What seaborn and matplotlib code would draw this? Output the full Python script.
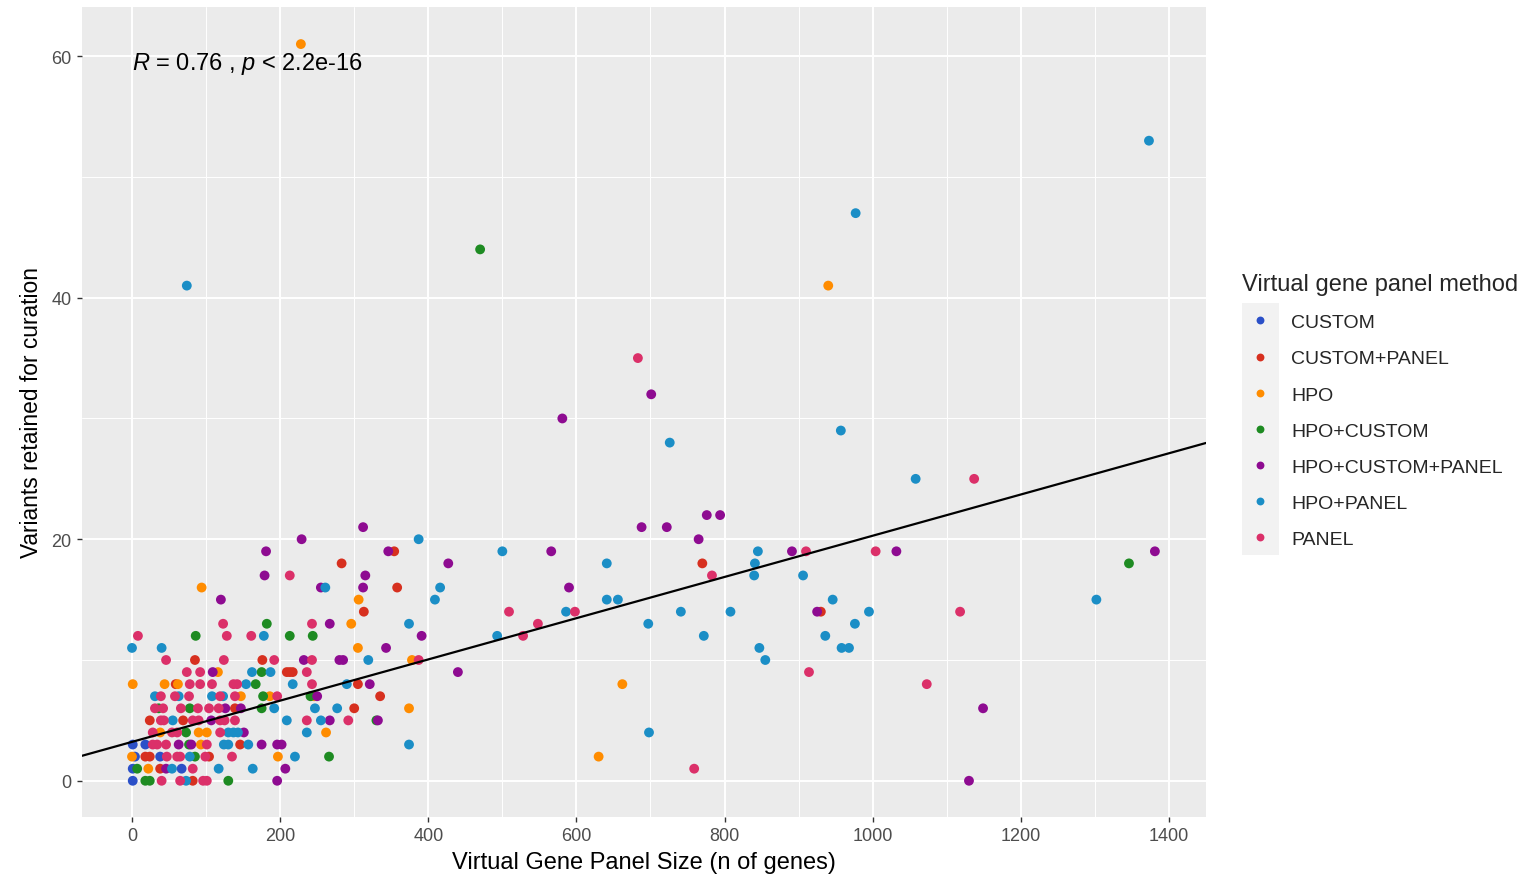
import numpy as np
import pandas as pd
import matplotlib
matplotlib.use("Agg")
import matplotlib.pyplot as plt
import seaborn as sns
from matplotlib.patches import Rectangle
from matplotlib.ticker import MultipleLocator

# ---------------- data ----------------
methods = ["CUSTOM", "CUSTOM+PANEL", "HPO", "HPO+CUSTOM",
           "HPO+CUSTOM+PANEL", "HPO+PANEL", "PANEL"]
method_colors = ["#2B50C8", "#D7301F", "#FF8C00", "#1E8B22",
                 "#8E0B91", "#1B8EC6", "#DB3069"]

custom_x = [1, 1, 4, 38, 1, 18, 67]
custom_y = [0, 1, 2, 2, 3, 3, 1]

custom_panel_x = [82, 38, 18, 24, 104, 146, 24, 69, 139, 300, 335, 59, 305,
                  209, 213, 217, 85, 176, 313, 930, 358, 283, 770, 354]
custom_panel_y = [0, 1, 2, 2, 2, 3, 5, 5, 6, 6, 7, 8, 8,
                  9, 9, 9, 10, 10, 14, 14, 16, 18, 18, 19]

hpo_x = [22, 0, 197, 630, 93, 38, 90, 101, 262, 374, 147, 186, 246,
         1, 44, 62, 662, 116, 378, 305, 296, 306, 94, 940, 228]
hpo_y = [1, 2, 2, 2, 3, 4, 4, 4, 4, 6, 7, 7, 7,
         8, 8, 8, 8, 9, 10, 11, 13, 15, 16, 41, 61]

hpo_custom_x = [18, 24, 130, 7, 85, 266, 77, 73, 330, 36, 78, 175, 177, 241,
                167, 175, 86, 213, 244, 182, 1346, 470]
hpo_custom_y = [0, 0, 0, 1, 2, 2, 3, 4, 5, 6, 6, 6, 7, 7,
                8, 9, 12, 12, 12, 13, 18, 44]

hpo_custom_panel_x = [196, 1130, 46, 207, 63, 80, 175, 196, 202, 151,
                      107, 267, 332, 126, 147, 1149, 250, 321, 109, 440,
                      232, 280, 285, 343, 391, 267, 925, 120, 255, 312, 590,
                      179, 315, 427, 181, 346, 566, 891, 1032, 1381,
                      229, 765, 312, 688, 722, 776, 794, 581, 701]
hpo_custom_panel_y = [0, 0, 1, 1, 3, 3, 3, 3, 3, 4,
                      5, 5, 5, 6, 6, 6, 7, 8, 9, 9,
                      10, 10, 10, 11, 12, 13, 14, 15, 16, 16, 16,
                      17, 17, 18, 19, 19, 19, 19, 19, 19,
                      20, 20, 21, 21, 21, 22, 22, 30, 32]

hpo_panel_x = [73, 54, 117, 163, 78, 220, 124, 130, 157, 374,
               130, 137, 143, 236, 698, 55, 209, 255, 192, 247, 277,
               31, 63, 108, 123, 154, 217, 290, 162, 187, 319, 855,
               0, 40, 847, 958, 968, 178, 493, 772, 936, 374, 697, 976,
               586, 741, 808, 995, 409, 641, 656, 946, 1302, 261, 416,
               840, 906, 641, 841, 500, 845, 387, 1058, 726, 957, 74,
               977, 1373]
hpo_panel_y = [0, 1, 1, 1, 2, 2, 3, 3, 3, 3,
               4, 4, 4, 4, 4, 5, 5, 5, 6, 6, 6,
               7, 7, 7, 7, 8, 8, 8, 9, 9, 10, 10,
               11, 11, 11, 11, 11, 12, 12, 12, 12, 13, 13, 13,
               14, 14, 14, 14, 15, 15, 15, 15, 15, 16, 16,
               17, 17, 18, 18, 19, 19, 20, 25, 28, 29, 41,
               47, 53]

panel_x = [40, 65, 96, 101, 82, 759, 47, 61, 65, 99, 135,
           28, 34, 46, 101, 28, 54, 61, 119,
           39, 43, 82, 90, 119, 125, 139, 236, 292,
           31, 42, 66, 89, 104, 117, 39, 58, 77, 119, 139, 196,
           78, 92, 108, 137, 142, 243, 1073, 74, 92, 236, 914,
           46, 124, 192, 243, 387, 8, 128, 161, 528, 123, 243, 548,
           509, 598, 1118, 213, 783, 910, 1004, 1137, 683]
panel_y = [0, 0, 0, 0, 1, 1, 2, 2, 2, 2, 2,
           3, 3, 3, 3, 4, 4, 4, 4,
           5, 5, 5, 5, 5, 5, 5, 5, 5,
           6, 6, 6, 6, 6, 6, 7, 7, 7, 7, 7, 7,
           8, 8, 8, 8, 8, 8, 8, 9, 9, 9, 9,
           10, 10, 10, 10, 10, 12, 12, 12, 12, 13, 13, 13,
           14, 14, 14, 17, 17, 19, 19, 25, 35]

# linear fit shown in the reference (the full data
# has many overlapping points near the origin)
fit_intercept = 3.22
fit_slope = 0.01707
cor_label = r"$R$ = 0.76 , $p$ < 2.2e-16"

xs = [custom_x, custom_panel_x, hpo_x, hpo_custom_x,
      hpo_custom_panel_x, hpo_panel_x, panel_x]
ys = [custom_y, custom_panel_y, hpo_y, hpo_custom_y,
      hpo_custom_panel_y, hpo_panel_y, panel_y]

frames = []
for m, xv, yv in zip(methods, xs, ys):
    frames.append(pd.DataFrame({"size": xv, "variants": yv, "method": m}))
df = pd.concat(frames, ignore_index=True)

# ---------------- style ----------------
sns.set_theme(style="darkgrid")
plt.rcParams["font.family"] = ["Liberation Sans", "DejaVu Sans"]
plt.rcParams["mathtext.fontset"] = "custom"
plt.rcParams["mathtext.rm"] = "Liberation Sans"
plt.rcParams["mathtext.it"] = "Liberation Sans:italic"

fig = plt.figure(figsize=(15.24, 8.79), dpi=100)
ax = fig.add_axes([82 / 1524, 1 - 818 / 879, (1206 - 82) / 1524, (818 - 8) / 879])
ax.set_facecolor("#EBEBEB")

sns.scatterplot(data=df, x="size", y="variants", hue="method",
                hue_order=methods, palette=method_colors, s=50,
                linewidth=0, ax=ax, zorder=3)

ax.axline((0, fit_intercept), slope=fit_slope, color="black", lw=1.6, zorder=4)

ax.set_xlim(-67.5, 1450)
ax.set_ylim(-3.0, 64.07)

ax.xaxis.set_major_locator(MultipleLocator(200))
ax.xaxis.set_minor_locator(MultipleLocator(100))
ax.yaxis.set_major_locator(MultipleLocator(20))
ax.yaxis.set_minor_locator(MultipleLocator(10))
ax.grid(which="major", color="white", linewidth=1.4)
ax.grid(which="minor", color="white", linewidth=0.7)
ax.set_axisbelow(True)
for sp in ax.spines.values():
    sp.set_visible(False)
ax.tick_params(which="major", length=3.5, width=1.0, color="#333333",
               labelcolor="#4D4D4D", labelsize=13, pad=4, bottom=True, left=True)
ax.tick_params(which="minor", length=0)

ax.set_xlabel("Virtual Gene Panel Size (n of genes)", fontsize=17, color="black", labelpad=5)
ax.set_ylabel("Variants retained for curation", fontsize=16.4, color="black", labelpad=6)

ax.text(0, 59.45, cor_label, fontsize=17, ha="left", va="center",
        color="black", zorder=5)

# legend
handles, labels = ax.get_legend_handles_labels()
if ax.get_legend():
    ax.get_legend().remove()
fig.patches.append(Rectangle((1242 / 1524, 1 - 556 / 879), 37 / 1524, 252 / 879,
                             transform=fig.transFigure, facecolor="#F2F2F2",
                             edgecolor="none", zorder=0))
leg = fig.legend(handles, labels, loc="upper left",
                 bbox_to_anchor=(1242 / 1524, 1 - 274 / 879),
                 frameon=False, fontsize=14, title="Virtual gene panel method",
                 title_fontsize=17, markerscale=0.8, handletextpad=0.67,
                 labelspacing=0.955, borderpad=0, borderaxespad=0,
                 alignment="left", handlelength=1.85)

fig.savefig("out.png", dpi=100)
